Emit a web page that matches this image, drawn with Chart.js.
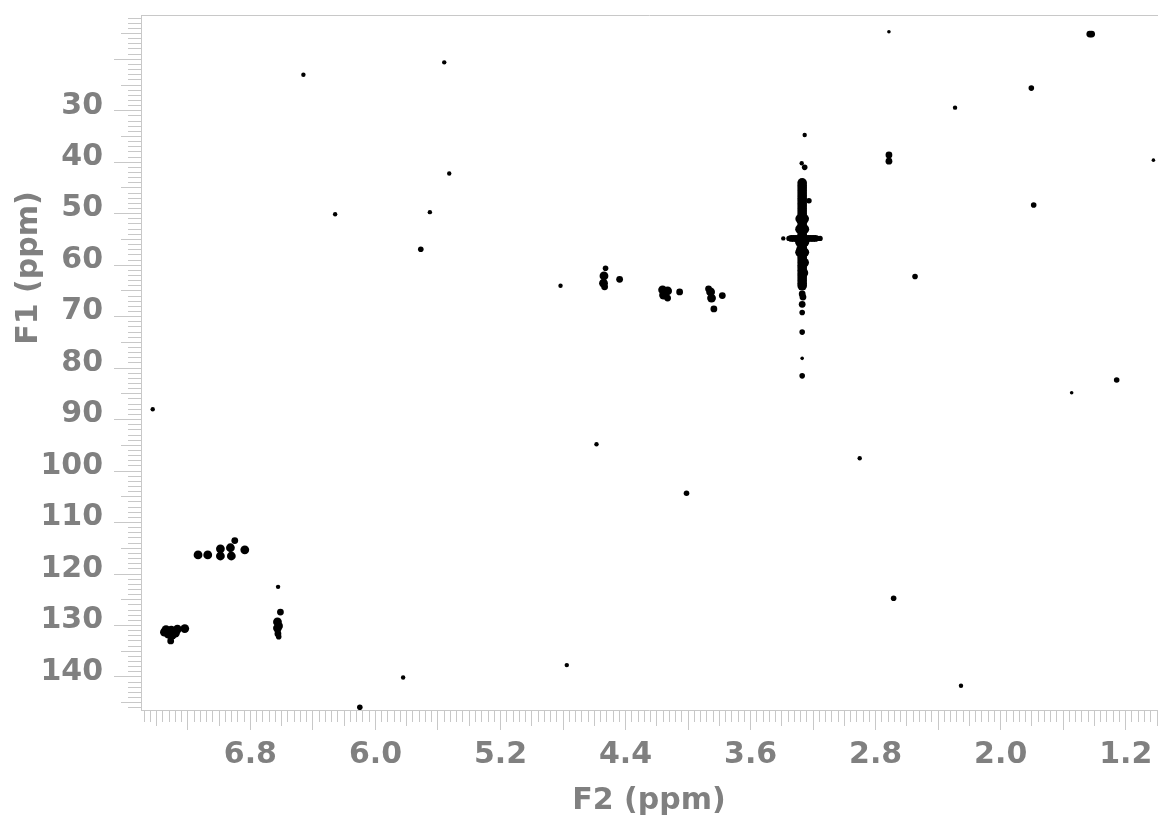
<!DOCTYPE html>
<html>
<head>
<meta charset="utf-8">
<script src="https://cdn.jsdelivr.net/npm/chart.js@4/dist/chart.umd.min.js"></script>
<style>
html,body{margin:0;padding:0;background:#fff;}
#wrap{width:1158px;height:834px;}
</style>
</head>
<body>
<div id="wrap"><canvas id="c" width="1158" height="834"></canvas></div>
<script>
// ---- axis definitions (ppm) ----
const xTitle = "F2 (ppm)";
const yTitle = "F1 (ppm)";
const xRange = [1.0, 7.5];
const yRange = [11.4, 146.42];
const xLabelTicks = [6.8, 6.0, 5.2, 4.4, 3.6, 2.8, 2.0, 1.2];
const yLabelTicks = [30, 40, 50, 60, 70, 80, 90, 100, 110, 120, 130, 140];

// ---- cross peaks [F2, F1] grouped by apparent spot size ----
const peaksTiny = [
  [1.023, 39.6], [2.715, 14.65], [1.546, 84.8], [3.270, 78.1]
];
const peaksSmall = [
  [6.461, 23.0], [5.560, 20.6], [5.528, 42.2], [6.258, 50.1], [5.652, 49.7],
  [2.292, 29.4], [7.425, 88.0], [6.623, 122.5], [5.823, 140.1], [4.586, 94.8],
  [2.902, 97.5], [4.776, 137.7], [2.254, 141.7], [4.816, 64.0], [3.254, 34.7],
  [3.273, 40.2], [3.391, 54.8]
];
const peaksMedium = [
  [5.710, 56.9], [1.804, 25.6], [1.789, 48.3], [2.548, 62.2], [2.685, 124.7],
  [4.010, 104.3], [6.100, 145.9], [1.258, 82.3], [3.254, 41.0], [3.227, 47.5],
  [3.270, 73.0], [3.270, 81.5], [3.270, 69.2], [4.528, 60.6], [6.619, 132.2]
];
const peaksLarge = [
  [1.430, 15.1], [1.418, 15.1], [2.715, 38.6], [2.715, 39.8],
  [4.438, 62.75], [4.054, 65.2], [3.781, 65.9], [3.835, 68.5],
  [6.608, 127.4], [6.614, 130.1], [6.624, 131.6], [4.534, 64.2], [4.131, 66.4],
  [3.869, 64.6], [6.900, 113.5], [7.310, 133.0],
  [3.270, 65.6], [3.265, 66.2], [3.270, 67.6]
];
const peaksXL = [
  [7.135, 116.3], [7.073, 116.3], [6.836, 115.3],
  [6.992, 115.1], [6.992, 116.5], [6.928, 114.9], [6.922, 116.5],
  [7.350, 131.3], [7.306, 130.9], [7.267, 130.7], [7.325, 131.7], [7.280, 131.5], [7.220, 130.6],
  [7.300, 131.9], [7.340, 130.8],
  [4.538, 62.1], [4.541, 63.5],
  [4.163, 64.8], [4.131, 65.0], [4.157, 65.8],
  [3.856, 65.2], [3.850, 66.4],
  [6.627, 129.3], [6.627, 130.5]
];
// ridge at ~3.27 ppm (t1 streak) and its cross bar
const ridgePeaks = [
  [3.270, 44.0], [3.270, 44.5], [3.270, 45.0], [3.270, 45.5], [3.270, 46.0], [3.270, 46.5],
  [3.270, 47.0], [3.270, 47.5], [3.270, 48.0], [3.270, 48.5], [3.270, 49.0], [3.270, 49.5],
  [3.270, 50.0], [3.270, 50.5], [3.270, 51.0], [3.270, 51.5], [3.270, 52.0], [3.270, 52.5],
  [3.270, 53.0], [3.270, 53.5], [3.270, 54.0], [3.270, 54.5], [3.270, 55.0], [3.270, 55.5],
  [3.270, 56.0], [3.270, 56.5], [3.270, 57.0], [3.270, 57.5], [3.270, 58.0], [3.270, 58.5],
  [3.270, 59.0], [3.270, 59.5], [3.270, 60.0], [3.270, 60.5], [3.270, 61.0], [3.270, 61.5],
  [3.270, 62.0], [3.270, 62.5], [3.270, 63.0], [3.270, 63.5], [3.270, 64.0],
  [3.257, 51.0], [3.283, 51.0], [3.256, 53.0], [3.284, 53.0], [3.255, 55.5], [3.285, 55.5],
  [3.256, 57.5], [3.284, 57.5], [3.257, 59.5], [3.262, 61.5], [3.278, 57.0]
];
const crossBarPeaks = [
  [3.340, 54.8], [3.325, 54.8], [3.310, 54.8], [3.295, 54.8],
  [3.245, 54.8], [3.230, 54.8], [3.215, 54.8], [3.200, 54.8], [3.185, 54.8]
];
const crossBarEnds = [
  [3.355, 54.8], [3.170, 54.8], [3.155, 54.8]
];

const toPts = arr => arr.map(p => ({x: p[0], y: p[1]}));
const GRAY = '#808080';
const TICKC = '#c8c8c8';
const FONT = '"DejaVu Sans", Verdana, sans-serif';

function ds(arr, r) {
  return {data: toPts(arr), pointRadius: r, pointHoverRadius: r, backgroundColor: '#000', borderWidth: 0, showLine: false};
}

const yTitlePlugin = {
  id: 'yTitle',
  afterDraw(chart) {
    const ctx = chart.ctx;
    ctx.save();
    ctx.translate(29, 268);
    ctx.rotate(-Math.PI / 2);
    ctx.font = 'bold 30px ' + FONT;
    ctx.fillStyle = GRAY;
    ctx.textAlign = 'center';
    ctx.textBaseline = 'middle';
    ctx.fillText(yTitle, 0, 0);
    ctx.restore();
  }
};

new Chart(document.getElementById('c'), {
  type: 'scatter',
  data: {
    datasets: [
      ds(peaksTiny, 1.8),
      ds(peaksSmall, 2.2),
      ds(peaksMedium, 2.8),
      ds(peaksLarge, 3.4),
      ds(peaksXL, 4.4),
      ds(ridgePeaks, 4.8),
      ds(crossBarPeaks, 3.4),
      ds(crossBarEnds, 2.6)
    ]
  },
  options: {
    responsive: false,
    animation: false,
    events: [],
    layout: {autoPadding: false, padding: {top: 15, right: 1, left: 0, bottom: 0}},
    plugins: {legend: {display: false}, tooltip: {enabled: false}},
    scales: {
      x: {
        type: 'linear', position: 'bottom', reverse: true,
        min: xRange[0], max: xRange[1],
        afterFit: s => { s.height = 124; s.paddingLeft = 0; s.paddingRight = 0; },
        border: {display: true, color: TICKC, width: 1},
        grid: {
          drawOnChartArea: false, drawTicks: true, tickLength: 20, tickColor: TICKC, tickWidth: 1,
          tickBorderDash: ctx => {
            const k = Math.round(ctx.tick.value * 100);
            if (k % 40 === 0) return [];
            if (k % 20 === 0) return [15, 60];
            return [11, 60];
          }
        },
        ticks: {
          stepSize: 0.04, includeBounds: false, autoSkip: false, maxRotation: 0, minRotation: 0,
          padding: 7, color: GRAY, font: {family: FONT, size: 30, weight: 'bold'},
          callback: v => xLabelTicks.some(t => Math.abs(t - v) < 1e-6) ? v.toFixed(1) : ''
        },
        title: {display: true, text: xTitle, color: GRAY, font: {family: FONT, size: 30, weight: 'bold'}, padding: {top: 0, bottom: 15}}
      },
      xt: {
        type: 'linear', position: 'top', reverse: true,
        min: xRange[0], max: xRange[1],
        afterFit: s => { s.height = 0; s.paddingLeft = 0; s.paddingRight = 0; },
        border: {display: true, color: TICKC, width: 1},
        grid: {drawOnChartArea: false, drawTicks: false},
        ticks: {display: false}
      },
      y: {
        type: 'linear', position: 'left', reverse: true,
        min: yRange[0], max: yRange[1],
        afterFit: s => { s.width = 141; s.paddingTop = 0; s.paddingBottom = 0; },
        border: {display: true, color: TICKC, width: 1},
        grid: {
          drawOnChartArea: false, drawTicks: true, tickLength: 27, tickColor: TICKC, tickWidth: 1,
          tickBorderDash: ctx => {
            const v = Math.round(ctx.tick.value);
            if (v % 10 === 0) return [];
            if (v % 5 === 0) return [0, 7, 20, 60];
            return [0, 14, 13, 60];
          }
        },
        ticks: {
          stepSize: 1, includeBounds: false, autoSkip: false, padding: 11, labelOffset: -5,
          color: GRAY, font: {family: FONT, size: 30, weight: 'bold'},
          callback: v => yLabelTicks.includes(Math.round(v)) && Math.abs(v - Math.round(v)) < 1e-6 ? String(Math.round(v)) : ''
        },
        title: {display: false}
      }
    }
  },
  plugins: [yTitlePlugin]
});
</script>
</body>
</html>
